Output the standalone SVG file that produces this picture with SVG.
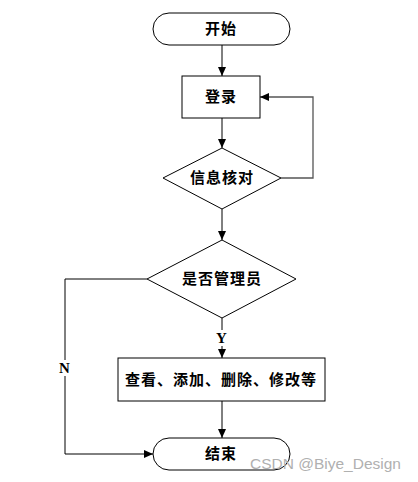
<svg xmlns="http://www.w3.org/2000/svg" width="418" height="482" viewBox="0 0 418 482">
<defs>
<marker id="arr" markerWidth="10" markerHeight="10" refX="9" refY="5" orient="auto" markerUnits="userSpaceOnUse">
<path d="M0,1 L9,5 L0,9 Z" fill="#000"/>
</marker>
<style>
.shape{fill:#fff;stroke:#000;stroke-width:1}
.line{fill:none;stroke:#000;stroke-width:1}
.t{font-family:"Liberation Serif","Noto Sans CJK SC",serif;font-weight:bold;font-size:15px;text-anchor:middle;dominant-baseline:central;fill:#000;letter-spacing:1px}
.wm{font-family:"Liberation Sans","DejaVu Sans",sans-serif;font-size:15.5px;fill:#b0b0b0}
</style>
</defs>
<rect width="418" height="482" fill="#fff"/>
<g id="connectors">
<line class="line" x1="222" y1="45" x2="222" y2="76" marker-end="url(#arr)"/>
<line class="line" x1="222" y1="118" x2="222" y2="148" marker-end="url(#arr)"/>
<polyline class="line" points="281,178 313,178 313,97 260,97" style="stroke:#555;stroke-width:1.3" marker-end="url(#arr)"/>
<line class="line" x1="222" y1="209" x2="222" y2="240" marker-end="url(#arr)"/>
<line class="line" x1="222" y1="318" x2="222" y2="358" marker-end="url(#arr)"/>
<line class="line" x1="222" y1="401" x2="222" y2="438" marker-end="url(#arr)"/>
<polyline class="line" points="147,279 65,279 65,454 153,454" marker-end="url(#arr)"/>
<rect x="214" y="330" width="16" height="16" fill="#fff"/>
<text class="t" x="222" y="338">Y</text>
<rect x="57" y="360" width="16" height="16" fill="#fff"/>
<text class="t" x="65" y="368">N</text>
</g>
<g id="start">
<rect class="shape" x="153" y="13" width="137" height="32" rx="16" ry="16"/>
<text class="t" x="221" y="29">开始</text>
</g>
<g id="login">
<rect class="shape" x="182" y="76" width="78" height="42"/>
<text class="t" x="221" y="97">登录</text>
</g>
<g id="verify">
<polygon class="shape" points="222,148 281,178 222,209 163,178"/>
<text class="t" x="222" y="178">信息核对</text>
</g>
<g id="isadmin">
<polygon class="shape" points="222,240 296,279 222,318 147,279"/>
<text class="t" x="222" y="279">是否管理员</text>
</g>
<g id="manage">
<rect class="shape" x="118" y="358" width="207" height="43"/>
<text class="t" x="221" y="380">查看、添加、删除、修改等</text>
</g>
<g id="end">
<rect class="shape" x="153" y="438" width="137" height="32" rx="16" ry="16"/>
<text class="t" x="221" y="454">结束</text>
</g>
<text class="wm" x="250" y="469">CSDN @Biye_Design</text>
</svg>
